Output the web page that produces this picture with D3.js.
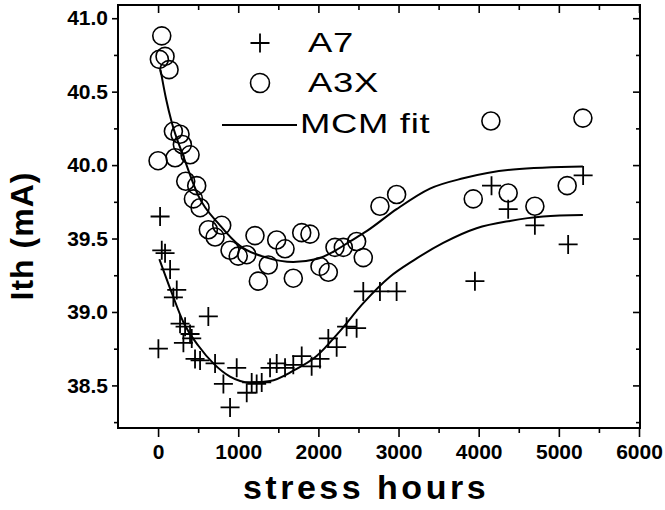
<!DOCTYPE html>
<html>
<head>
<meta charset="utf-8">
<script src="https://cdn.jsdelivr.net/npm/d3@7"></script>
<style>
  html, body { margin: 0; padding: 0; background: #fff; }
  svg { display: block; }
  text { font-family: "Liberation Sans", Arial, Helvetica, sans-serif; fill: #000; }
</style>
</head>
<body>
<svg id="chart" width="665" height="510"></svg>
<script>
// ---- Data ----
const a7Hours = [4, 25, 46, 87, 150, 191, 233, 274, 337, 316, 399, 420, 461, 524, 627, 711, 815, 898, 981, 1106, 1168, 1230, 1293, 1397, 1480, 1584, 1687, 1792, 1916, 2020, 2124, 2228, 2352, 2477, 2560, 2768, 2976, 3953, 4160, 4368, 4701, 5116, 5303];
const a7Ith   = [38.75, 39.65, 39.42, 39.40, 39.29, 39.10, 39.15, 38.92, 38.90, 38.79, 38.85, 38.82, 38.68, 38.67, 38.97, 38.65, 38.51, 38.35, 38.62, 38.45, 38.52, 38.51, 38.52, 38.62, 38.65, 38.62, 38.64, 38.70, 38.63, 38.68, 38.82, 38.76, 38.90, 38.89, 39.14, 39.14, 39.14, 39.21, 39.86, 39.70, 39.59, 39.46, 39.93];

const a3xHours = [0, 46, 16, 87, 137, 191, 274, 303, 212, 399, 345, 482, 441, 524, 627, 794, 711, 898, 1000, 1106, 1209, 1251, 1480, 1584, 1792, 1895, 1375, 1687, 2020, 2124, 2207, 2311, 2477, 2560, 2768, 2976, 3932, 4152, 4368, 4701, 5104, 5300];
const a3xIth   = [40.03, 40.88, 40.72, 40.74, 40.65, 40.23, 40.21, 40.14, 40.05, 40.07, 39.89, 39.86, 39.77, 39.71, 39.56, 39.59, 39.51, 39.42, 39.38, 39.39, 39.52, 39.21, 39.49, 39.43, 39.54, 39.53, 39.32, 39.23, 39.31, 39.27, 39.44, 39.44, 39.48, 39.37, 39.72, 39.80, 39.77, 40.30, 39.81, 39.72, 39.86, 40.32];

const fitA3xHours = [30, 100, 171, 316, 503, 773, 1022, 1355, 1687, 1978, 2186, 2394, 2602, 2976, 3392, 3807, 4431, 5300];
const fitA3xIth   = [40.65, 40.45, 40.29, 40.06, 39.79, 39.59, 39.45, 39.37, 39.34, 39.36, 39.41, 39.48, 39.55, 39.70, 39.84, 39.91, 39.97, 39.99];

const fitA7Hours = [16, 171, 316, 503, 690, 898, 1147, 1397, 1687, 1978, 2269, 2560, 2893, 3184, 3557, 3973, 4389, 4804, 5300];
const fitA7Ith   = [39.36, 39.13, 38.93, 38.77, 38.65, 38.56, 38.52, 38.53, 38.60, 38.70, 38.87, 39.06, 39.24, 39.35, 39.47, 39.57, 39.62, 39.65, 39.66];

const xTickValues = [0, 1000, 2000, 3000, 4000, 5000, 6000];
const xMinorTicks = [500, 1500, 2500, 3500, 4500, 5500];
const yTickValues = [38.5, 39.0, 39.5, 40.0, 40.5, 41.0];
const yMinorTicks = [38.25, 38.75, 39.25, 39.75, 40.25, 40.75];

const legendLabels = ["A7", "A3X", "MCM fit"];
const xTitle = "stress hours";
const yTitle = "Ith (mA)";

// ---- Layout ----
const L = 118, R = 640, T = 5, B = 428;
const svg = d3.select("#chart");

const x = d3.scaleLinear().domain([-500, 6000]).range([L, 639]);
const y = d3.scaleLinear().domain([38.21, 41.09]).range([B, T]);

const fmtY = d3.format(".1f");

const g = svg.append("g");

function styleAxis(sel) {
  sel.select(".domain").remove();
  sel.selectAll("line").attr("stroke", "#000").attr("stroke-width", 1.6);
  sel.selectAll("text")
    .style("font-family", '"Liberation Sans", Arial, Helvetica, sans-serif')
    .style("font-weight", "bold")
    .style("font-size", "21px")
    .attr("fill", "#000");
}

// bottom
g.append("g").attr("transform", `translate(0,${B})`)
  .call(d3.axisBottom(x).tickValues(xTickValues).tickSize(9).tickPadding(7).tickFormat(d3.format("d")))
  .call(styleAxis);
g.append("g").attr("transform", `translate(0,${B})`)
  .call(d3.axisBottom(x).tickValues(xMinorTicks).tickSize(5).tickFormat(""))
  .call(styleAxis);
// top (inward)
g.append("g").attr("transform", `translate(0,${T})`)
  .call(d3.axisBottom(x).tickValues(xTickValues).tickSize(8).tickFormat(""))
  .call(styleAxis);
g.append("g").attr("transform", `translate(0,${T})`)
  .call(d3.axisBottom(x).tickValues(xMinorTicks).tickSize(5).tickFormat(""))
  .call(styleAxis);
// left
g.append("g").attr("transform", `translate(${L},0)`)
  .call(d3.axisLeft(y).tickValues(yTickValues).tickSize(6).tickPadding(4).tickFormat(fmtY))
  .call(styleAxis);
g.append("g").attr("transform", `translate(${L},0)`)
  .call(d3.axisLeft(y).tickValues(yMinorTicks).tickSize(4).tickFormat(""))
  .call(styleAxis);
// right (inward)
g.append("g").attr("transform", `translate(${R},0)`)
  .call(d3.axisLeft(y).tickValues(yTickValues).tickSize(7).tickFormat(""))
  .call(styleAxis);
g.append("g").attr("transform", `translate(${R},0)`)
  .call(d3.axisLeft(y).tickValues(yMinorTicks).tickSize(4).tickFormat(""))
  .call(styleAxis);

// frame
svg.append("rect").attr("x", L).attr("y", T).attr("width", R - L).attr("height", B - T)
  .attr("fill", "none").attr("stroke", "#000").attr("stroke-width", 2);

// Fit lines
const line = d3.line().x(d => x(d[0])).y(d => y(d[1])).curve(d3.curveMonotoneX);
const fitA3x = fitA3xHours.map((h, i) => [h, fitA3xIth[i]]);
const fitA7 = fitA7Hours.map((h, i) => [h, fitA7Ith[i]]);
[fitA3x, fitA7].forEach(pts => {
  svg.append("path").attr("d", line(pts)).attr("fill", "none")
    .attr("stroke", "#000").attr("stroke-width", 2);
});

// A3X circles
const a3x = a3xHours.map((h, i) => [h, a3xIth[i]]);
svg.append("g").selectAll("circle").data(a3x).join("circle")
  .attr("cx", d => x(d[0])).attr("cy", d => y(d[1])).attr("r", 9)
  .attr("fill", "none").attr("stroke", "#000").attr("stroke-width", 1.6);

// A7 crosses
const a7 = a7Hours.map((h, i) => [h, a7Ith[i]]);
const cs = 9.5;
const crossPath = (cx, cy) => `M${cx - cs},${cy}H${cx + cs}M${cx},${cy - cs}V${cy + cs}`;
svg.append("g").selectAll("path").data(a7).join("path")
  .attr("d", d => crossPath(x(d[0]), y(d[1])))
  .attr("fill", "none").attr("stroke", "#000").attr("stroke-width", 1.8);

// Legend
const lg = svg.append("g");
lg.append("path").attr("d", crossPath(260, 43)).attr("stroke", "#000").attr("stroke-width", 1.8);
lg.append("circle").attr("cx", 260).attr("cy", 83).attr("r", 9.5)
  .attr("fill", "none").attr("stroke", "#000").attr("stroke-width", 1.6);
lg.append("line").attr("x1", 222).attr("x2", 297).attr("y1", 125).attr("y2", 125)
  .attr("stroke", "#000").attr("stroke-width", 2);
const legY = [52, 92, 133];
const legX = [308, 308, 300];
legendLabels.forEach((t, i) => {
  lg.append("text").attr("transform", `translate(${legX[i]},${legY[i]}) scale(1.35,1)`)
    .style("font-size", "27px").style("letter-spacing", "0.5px").text(t);
});

// Axis titles
svg.append("text").attr("x", 366).attr("y", 499).attr("text-anchor", "middle")
  .style("font-size", "34px").style("font-weight", "bold").style("letter-spacing", "3.5px")
  .text(xTitle);
svg.append("text").attr("transform", "translate(33,236) rotate(-90)").attr("text-anchor", "middle")
  .style("font-size", "32px").style("font-weight", "bold").style("letter-spacing", "1px")
  .text(yTitle);
</script>
</body>
</html>
